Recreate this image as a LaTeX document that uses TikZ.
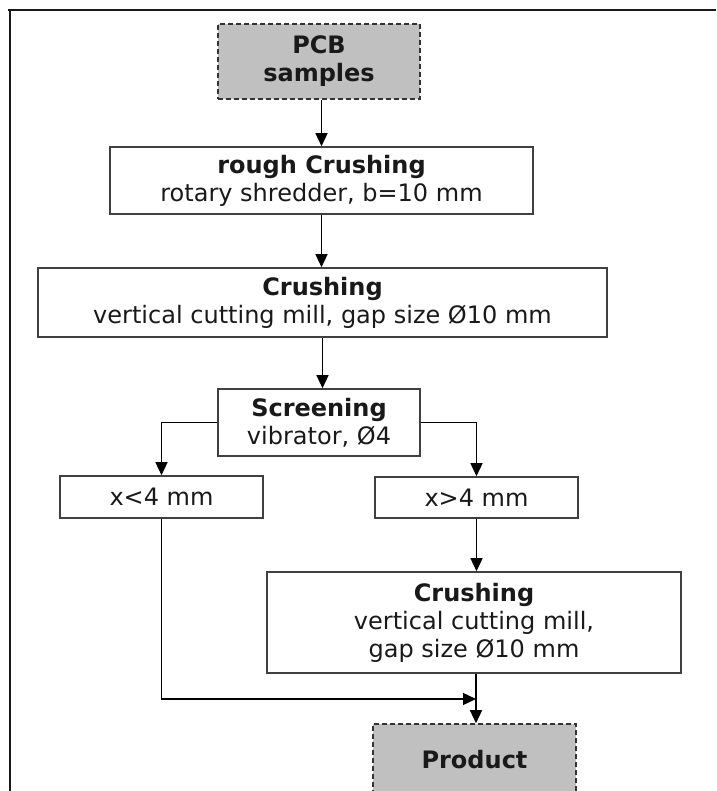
\documentclass[tikz,border=0pt]{standalone}
\usepackage{fontspec}
\setmainfont{DejaVu Sans}
\usetikzlibrary{arrows.meta,calc}
\begin{document}
\begin{tikzpicture}[x=1pt,y=-1pt,
  every node/.style={font=\fontsize{24}{28}\selectfont, align=center, inner sep=0pt, text=black!90},
  procbox/.style={draw=black!75, line width=1.6pt, fill=white, rectangle},
  endbox/.style={draw=black!80, line width=1.6pt, fill={rgb,255:red,192;green,192;blue,192}, rectangle, dash pattern=on 5pt off 3pt},
  arr/.style={draw=black, line width=1.4pt, -{Triangle[length=13pt,width=12pt]}},
  frameline/.style={draw=black!90, line width=1.6pt}
]
\useasboundingbox (0,0) rectangle (716,791);
\draw[frameline] (8,10) -- (716,10);
\draw[frameline] (10,10) -- (10,795);

\node[endbox, minimum width=202pt, minimum height=75pt] (pcb) at (319,61.5) {\bfseries PCB\\\bfseries samples};
\node[procbox, minimum width=423pt, minimum height=67pt] (rough) at (321.5,180.5) {\bfseries rough Crushing\\rotary shredder, b=10 mm};
\node[procbox, minimum width=569pt, minimum height=69pt] (crusha) at (322.5,302.5) {\bfseries Crushing\\vertical cutting mill, gap size Ø10 mm};
\node[procbox, minimum width=202pt, minimum height=67pt] (screen) at (319,422.5) {\bfseries Screening\\vibrator, Ø4};
\node[procbox, minimum width=203pt, minimum height=42pt] (fine) at (161.5,497) {x<4 mm};
\node[procbox, minimum width=203pt, minimum height=41pt] (coarse) at (476.5,497.5) {x>4 mm};
\node[procbox, minimum width=414pt, minimum height=101pt] (crushb) at (474,622.5) {\bfseries Crushing\\vertical cutting mill,\\gap size Ø10 mm};
\node[endbox, minimum width=203pt, minimum height=72pt] (product) at (474.5,760) {\bfseries Product};
\coordinate (join) at (476,699);

\draw[arr] (pcb.south -| rough.north) -- (rough.north);
\draw[arr] (rough.south) -- (rough.south |- crusha.north);
\draw[arr] (crusha.south) -- (crusha.south |- screen.north);
\draw[arr] (screen.west) -| (fine.north);
\draw[arr] (screen.east) -| (coarse.north);
\draw[arr] (coarse.south) -- (coarse.south |- crushb.north);
\draw[arr] (fine.south) |- (join);
\draw[arr] (crushb.south -| join) -- (product.north -| join);
\end{tikzpicture}
\end{document}
